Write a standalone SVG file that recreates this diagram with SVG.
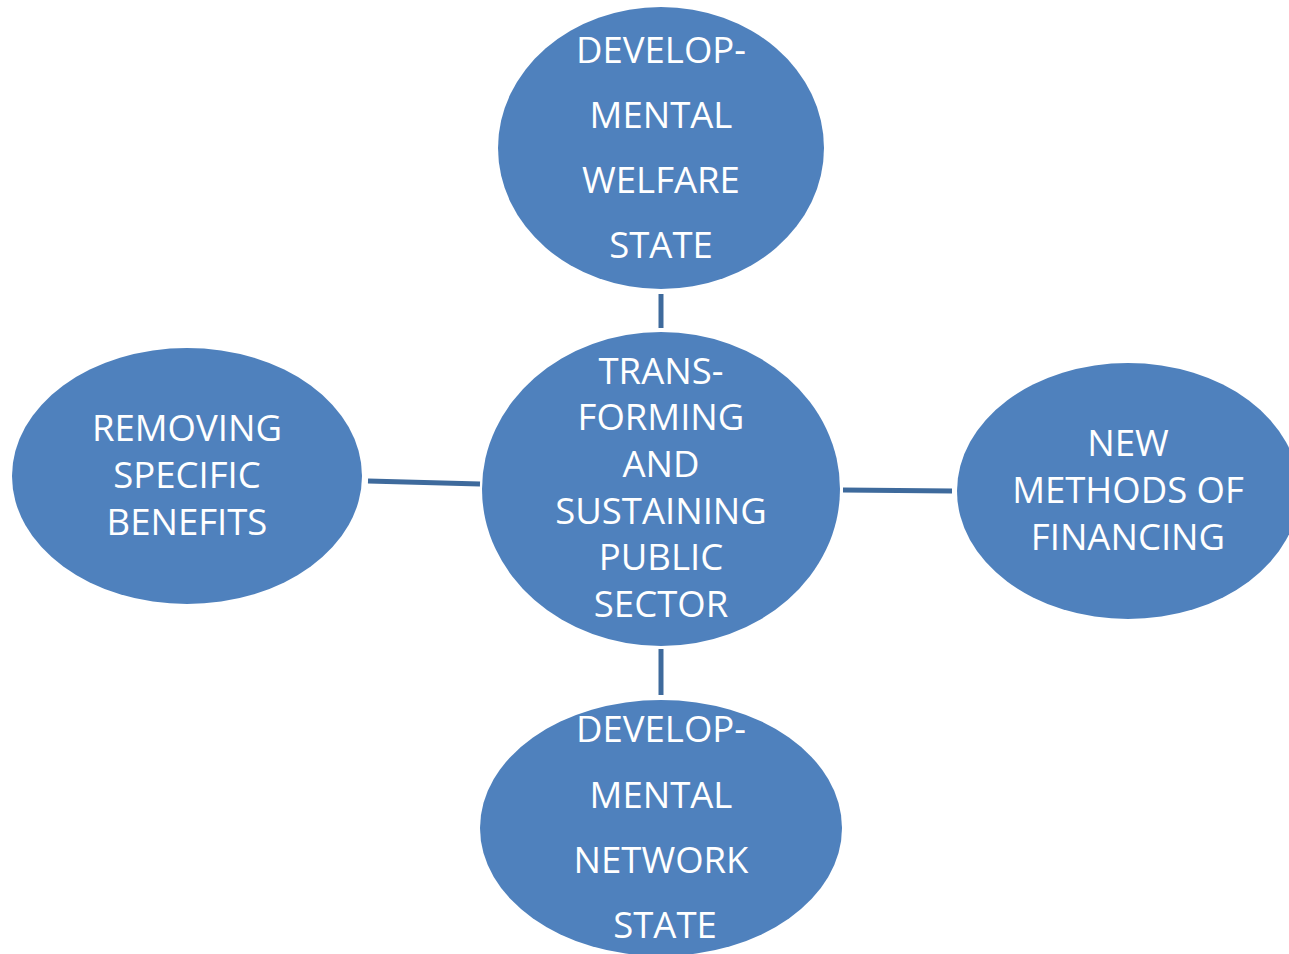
<svg xmlns="http://www.w3.org/2000/svg" width="1289" height="954" viewBox="0 0 1289 954">
<style>
.node{fill:#4F81BD;stroke:none}
.lbl{font-family:"Open Sans","Liberation Sans",sans-serif;font-size:36.5px;fill:#FFFFFF;text-anchor:middle}
.conn{stroke:#3E6A9C;stroke-width:5;fill:none}
</style>
<rect width="1289" height="954" fill="#FFFFFF"/>
<g id="connectors">
<line class="conn" x1="661" y1="294" x2="661" y2="328"/>
<line class="conn" x1="661" y1="649" x2="661" y2="695"/>
<line class="conn" x1="368" y1="481" x2="480" y2="484"/>
<line class="conn" x1="843" y1="490" x2="952" y2="491"/>
</g>
<g id="node-top">
<ellipse class="node" cx="661" cy="148" rx="163" ry="141"/>
<text class="lbl" x="661" y="63">DEVELOP-</text>
<text class="lbl" x="661" y="128">MENTAL</text>
<text class="lbl" x="661" y="193">WELFARE</text>
<text class="lbl" x="661" y="258">STATE</text>
</g>
<g id="node-center">
<ellipse class="node" cx="661" cy="489" rx="179" ry="157"/>
<text class="lbl" x="661" y="384">TRANS-</text>
<text class="lbl" x="661" y="430">FORMING</text>
<text class="lbl" x="661" y="477">AND</text>
<text class="lbl" x="661" y="524">SUSTAINING</text>
<text class="lbl" x="661" y="570">PUBLIC</text>
<text class="lbl" x="661" y="617">SECTOR</text>
</g>
<g id="node-left">
<ellipse class="node" cx="187" cy="476" rx="175" ry="128"/>
<text class="lbl" x="187" y="441">REMOVING</text>
<text class="lbl" x="187" y="488">SPECIFIC</text>
<text class="lbl" x="187" y="535">BENEFITS</text>
</g>
<g id="node-right">
<ellipse class="node" cx="1128" cy="491" rx="171" ry="128"/>
<text class="lbl" x="1128" y="456">NEW</text>
<text class="lbl" x="1128" y="503">METHODS OF</text>
<text class="lbl" x="1128" y="550">FINANCING</text>
</g>
<g id="node-bottom">
<ellipse class="node" cx="661" cy="828" rx="181" ry="128"/>
<text class="lbl" x="661" y="742">DEVELOP-</text>
<text class="lbl" x="661" y="808">MENTAL</text>
<text class="lbl" x="661" y="873">NETWORK</text>
<text class="lbl" x="665" y="938">STATE</text>
</g>
</svg>
